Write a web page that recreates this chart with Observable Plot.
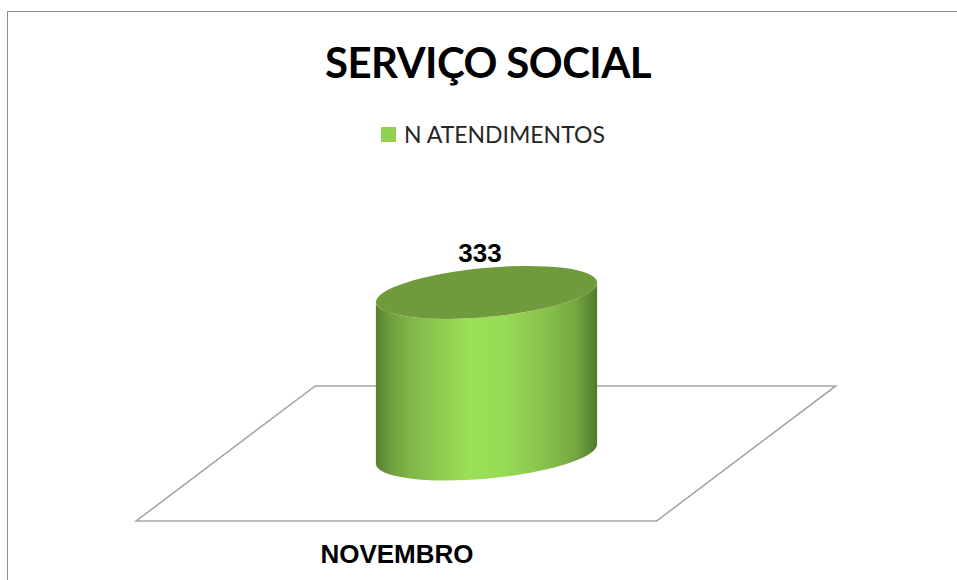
<!DOCTYPE html>
<html lang="pt">
<head>
<meta charset="utf-8">
<script src="https://cdn.jsdelivr.net/npm/d3@7"></script>
<script src="https://cdn.jsdelivr.net/npm/@observablehq/plot@0.6"></script>
<style>
html,body{margin:0;padding:0;background:#fff;overflow:hidden}
#wrap{position:relative;width:957px;height:580px;overflow:hidden;background:#fff}
#frame{position:absolute;left:7px;top:11px;width:960px;height:600px;border:1.5px solid #8e8e8e;box-sizing:border-box}
#title{position:absolute;left:0;width:976px;top:34px;text-align:center;font:700 42px/56px Lato,sans-serif;letter-spacing:-0.6px;color:#000;white-space:nowrap}
#legend{position:absolute;left:381px;top:120px;height:28px;display:flex;align-items:center;font:400 23px/28px Lato,sans-serif;color:#262626;white-space:nowrap}
#legend i{display:inline-block;width:15px;height:15px;background:#92d050;margin-right:8px}
#chart{position:absolute;left:0;top:150px}
#chart svg{display:block;overflow:visible}
</style>
</head>
<body>
<div id="wrap">
  <div id="frame"></div>
  <div id="title"></div>
  <div id="legend"><i></i><span id="legendText"></span></div>
  <div id="chart"></div>
</div>
<script>
const chartTitle = "SERVIÇO SOCIAL";
const seriesName = "N ATENDIMENTOS";
const months = ["NOVEMBRO"];
const atendimentos = [333];

document.getElementById("title").textContent = chartTitle;
document.getElementById("legendText").textContent = seriesName;

const rows = months.map((month, i) => ({month, value: atendimentos[i]}));
const NS = "http://www.w3.org/2000/svg";
function el(name, attrs) {
  const e = document.createElementNS(NS, name);
  for (const k in attrs) e.setAttribute(k, attrs[k]);
  return e;
}

// Ground plane of the 3-D chart, proportioned from the band and the zero line
function floor(index, scales) {
  const bw = scales.x.bandwidth();
  const cx = scales.x(months[0]) + bw / 2;
  const y0 = scales.y(0);
  const back = y0 - 0.308 * bw, front = y0 + 0.303 * bw;
  const pts = [
    [cx - 1.585 * bw, front], [cx + 0.77 * bw, front],
    [cx + 1.58 * bw, back], [cx - 0.775 * bw, back]
  ];
  return el("path", {
    d: "M" + pts.map(p => p.join(",")).join("L") + "Z",
    fill: "#fff", stroke: "#a6a6a6", "stroke-width": 1.6
  });
}

// Draws each bar as a tilted cylinder, sized from the bar's own scaled values
function cylinder(index, scales, values) {
  const g = el("g", {});
  const defs = el("defs", {});
  const grad = el("linearGradient", {id: "cyl", x1: 0, x2: 1, y1: 0, y2: 0});
  [[0, "#587f30"], [0.06, "#6d9c3b"], [0.15, "#80b548"], [0.28, "#8dcb50"],
   [0.42, "#9be058"], [0.58, "#98db56"], [0.76, "#88c24c"], [0.9, "#76a742"], [1, "#517a2b"]]
    .forEach(([o, c]) => grad.appendChild(el("stop", {offset: o, "stop-color": c})));
  defs.appendChild(grad);
  g.appendChild(defs);
  const tilt = -5.3 * Math.PI / 180;
  for (const i of index) {
    const bw = scales.x.bandwidth();
    const cx = values.x[i] + bw / 2;
    const top = values.y2[i], base = values.y1[i];
    const rx = bw / 2 * 1.005, ry = bw * 0.111;
    // Silhouette points of the tilted ellipse at its far left and right
    const halfW = Math.hypot(rx * Math.cos(tilt), ry * Math.sin(tilt));
    const off = (rx * rx - ry * ry) * Math.sin(tilt) * Math.cos(tilt) / halfW;
    const deg = tilt * 180 / Math.PI;
    const arc = `A${rx},${ry} ${deg} 0 `;
    const d = `M${cx - halfW},${top - off}L${cx - halfW},${base - off}` +
      arc + `0 ${cx + halfW},${base + off}` +
      `L${cx + halfW},${top + off}` +
      arc + `1 ${cx - halfW},${top - off}Z`;
    g.appendChild(el("path", {d, fill: "url(#cyl)"}));
    g.appendChild(el("ellipse", {
      cx, cy: top, rx, ry,
      transform: `rotate(${deg} ${cx} ${top})`,
      fill: "#6f9b3c"
    }));
  }
  return g;
}

const plot = Plot.plot({
  width: 957,
  height: 430,
  margin: 0,
  style: {background: "transparent", overflow: "visible"},
  x: {domain: months, range: [376, 597], padding: 0, label: null},
  y: {domain: [0, 333], range: [304, 142.4], axis: null},
  marks: [
    floor,
    Plot.barY(rows, {x: "month", y: "value", render: cylinder}),
    Plot.text(rows, {
      x: "month", y: "value", text: d => String(d.value),
      dx: -7, dy: -39,
      fontSize: 26, fontWeight: 700, fontFamily: "Liberation Sans, Arial, sans-serif", fill: "#000"
    }),
    Plot.axisX({
      anchor: "bottom", tickSize: 0, label: null, dx: -90, dy: -45,
      fontSize: 26, fontWeight: 700, fontFamily: "Liberation Sans, Arial, sans-serif", color: "#000"
    })
  ]
});
document.getElementById("chart").appendChild(plot);
</script>
</body>
</html>
